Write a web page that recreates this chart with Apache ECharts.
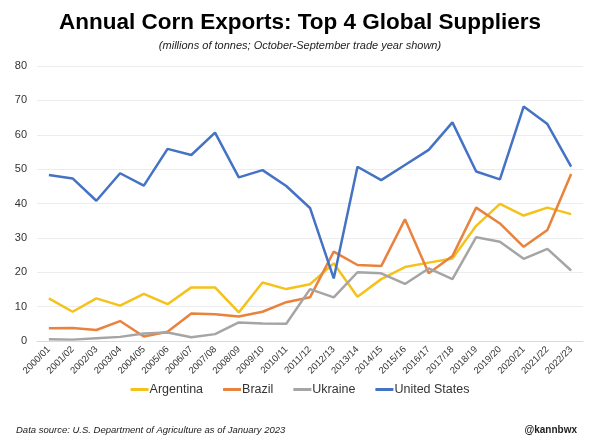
<!DOCTYPE html>
<html lang="en">
<head>
    <meta charset="UTF-8">
    <title>Annual Corn Exports</title>
    <script src="https://cdn.jsdelivr.net/npm/echarts@6/dist/echarts.min.js"></script>
    <style>
        html, body { margin: 0; padding: 0; background: #ffffff; }
        #chart { width: 600px; height: 441px; }
    </style>
</head>
<body>
    <div id="chart"></div>
    <script>
        // Trade years (Oct-Sep)
        var years = ['2000/01', '2001/02', '2002/03', '2003/04', '2004/05', '2005/06', '2006/07', '2007/08',
            '2008/09', '2009/10', '2010/11', '2011/12', '2012/13', '2013/14', '2014/15', '2015/16',
            '2016/17', '2017/18', '2018/19', '2019/20', '2020/21', '2021/22', '2022/23'];

        // Exports, millions of tonnes
        var argentina = [12.4, 8.5, 12.4, 10.3, 13.7, 10.7, 15.6, 15.6, 8.3, 17.0, 15.1, 16.5,
            22.6, 12.9, 18.0, 21.5, 22.8, 24.0, 33.5, 39.9, 36.5, 38.8, 36.9];
        var brazil = [3.7, 3.8, 3.2, 5.8, 1.3, 2.7, 8.0, 7.8, 7.1, 8.5, 11.3, 12.7,
            26.0, 22.1, 21.8, 35.4, 19.7, 24.7, 38.8, 34.2, 27.4, 32.3, 48.6];
        var ukraine = [0.5, 0.4, 0.8, 1.2, 2.2, 2.5, 1.1, 2.0, 5.4, 5.1, 5.0, 15.1,
            12.7, 20.0, 19.7, 16.6, 21.1, 18.0, 30.2, 28.9, 23.9, 26.8, 20.5];
        var unitedStates = [48.3, 47.3, 40.8, 48.8, 45.2, 55.9, 54.1, 60.6, 47.6, 49.7, 45.1, 38.7,
            18.2, 50.7, 46.8, 51.2, 55.6, 63.6, 49.3, 47.0, 68.2, 63.1, 50.7];

        var yTicks = { min: 0, max: 80, interval: 10 };

        var chart = echarts.init(document.getElementById('chart'));

        function lineSeries(name, data, color) {
            return {
                name: name,
                type: 'line',
                data: data,
                showSymbol: false,
                symbol: 'none',
                lineStyle: { color: color, width: 2.5 },
                itemStyle: { color: color },
                emphasis: { disabled: true }
            };
        }

        chart.setOption({
            animation: false,
            textStyle: { fontFamily: 'Liberation Sans, Arial, sans-serif' },
            title: [{
                text: 'Annual Corn Exports: Top 4 Global Suppliers',
                left: 'center',
                top: 6,
                textStyle: { fontSize: 22.5, fontWeight: 'bold', color: '#000000' }
            }, {
                text: '(millions of tonnes; October-September trade year shown)',
                left: 'center',
                top: 35,
                textStyle: { fontSize: 11, fontStyle: 'italic', fontWeight: 'normal', color: '#222222' }
            }, {
                text: 'Data source: U.S. Department of Agriculture as of January 2023',
                left: 11,
                top: 420,
                textStyle: { fontSize: 9.5, fontStyle: 'italic', fontWeight: 'normal', color: '#222222' }
            }, {
                text: '@kannbwx',
                right: 18,
                top: 420,
                textStyle: { fontSize: 10, fontWeight: 'bold', color: '#222222' }
            }],
            legend: {
                bottom: 40,
                left: 'center',
                itemWidth: 18,
                itemHeight: 3,
                itemGap: 20,
                icon: 'rect',
                textStyle: { fontSize: 12.5, color: '#333333', padding: [0, 0, 0, -4] },
                data: ['Argentina', 'Brazil', 'Ukraine', 'United States']
            },
            grid: { left: 37, right: 17, top: 66, bottom: 100, containLabel: false },
            xAxis: {
                type: 'category',
                data: years,
                boundaryGap: true,
                axisLine: { lineStyle: { color: '#d9d9d9' } },
                axisTick: { show: false },
                axisLabel: { rotate: 45, fontSize: 9.5, color: '#333333', interval: 0, margin: 7 }
            },
            yAxis: {
                type: 'value',
                min: yTicks.min,
                max: yTicks.max,
                interval: yTicks.interval,
                axisLine: { show: false },
                axisTick: { show: false },
                axisLabel: { fontSize: 11, color: '#333333', margin: 10 },
                splitLine: { lineStyle: { color: '#ececec' } }
            },
            series: [
                lineSeries('Argentina', argentina, '#F5C21B'),
                lineSeries('Brazil', brazil, '#E9823C'),
                lineSeries('Ukraine', ukraine, '#A5A5A5'),
                lineSeries('United States', unitedStates, '#4472C4')
            ]
        });
    </script>
</body>
</html>
